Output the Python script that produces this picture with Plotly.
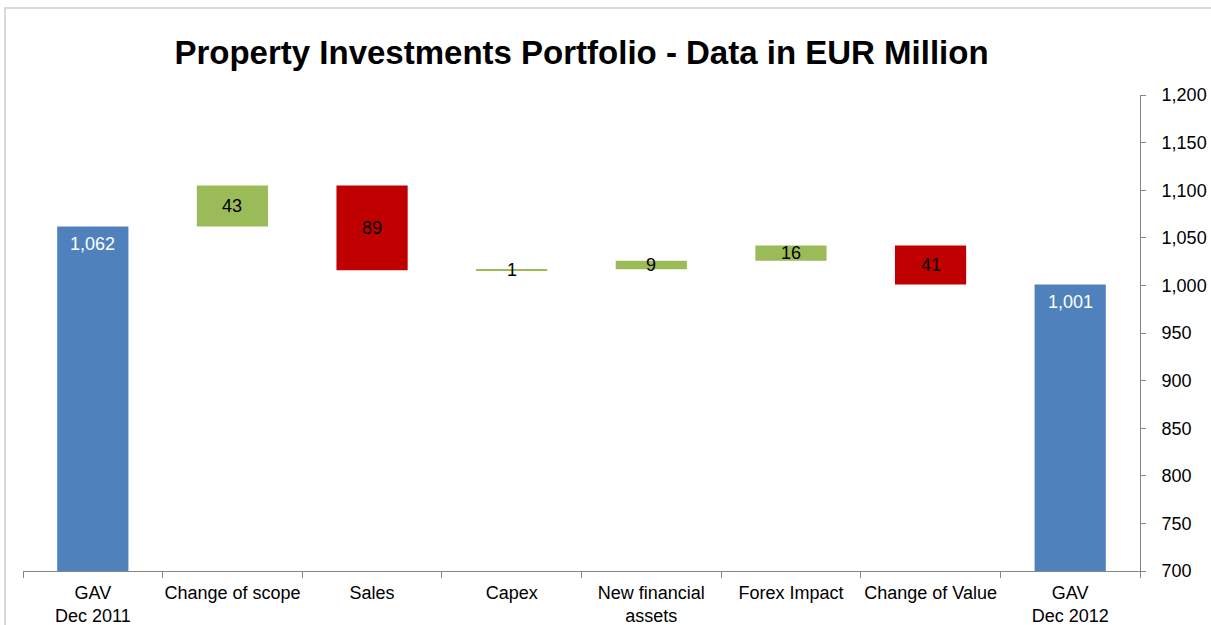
import plotly.graph_objects as go

categories = ["GAV<br>Dec 2011", "Change of scope", "Sales", "Capex",
              "New financial<br>assets", "Forex Impact", "Change of Value",
              "GAV<br>Dec 2012"]
# first and last are totals, the rest are movements
start_total = 1062
movements = [43, -89, 1, 9, 16, -41]
end_total = 1001

BLUE = "#4F81BD"
GREEN = "#9BBB59"
RED = "#C00000"
FONT = "Liberation Sans, Arial, sans-serif"


def build_steps():
    bases, heights, colors, kinds = [], [], [], []
    bases.append(0)
    heights.append(start_total)
    colors.append(BLUE)
    kinds.append("total")
    level = start_total
    for m in movements:
        lo = min(level, level + m)
        bases.append(lo)
        heights.append(abs(m))
        colors.append(GREEN if m > 0 else RED)
        kinds.append("delta")
        level += m
    bases.append(0)
    heights.append(end_total)
    colors.append(BLUE)
    kinds.append("total")
    return bases, heights, colors, kinds


bases, heights, colors, kinds = build_steps()

fig = go.Figure()
fig.add_trace(go.Bar(
    x=categories, y=heights, base=bases,
    marker=dict(color=colors, line=dict(width=0)),
    width=0.51, hoverinfo="x+y", showlegend=False,
))

annotations = []
for cat, b, h, k in zip(categories, bases, heights, kinds):
    if k == "total":
        annotations.append(dict(x=cat, y=b + h, yshift=-18, text=f"{h:,}",
                                showarrow=False,
                                font=dict(family=FONT, size=18, color="white")))
    else:
        annotations.append(dict(x=cat, y=b + h / 2, text=f"{h:,}",
                                showarrow=False,
                                font=dict(family=FONT, size=18, color="black")))

fig.update_layout(
    width=1211, height=625,
    paper_bgcolor="white", plot_bgcolor="white",
    margin=dict(l=23, r=71, t=95, b=54),
    font=dict(family=FONT, size=18, color="black"),
    title=dict(text="<b>Property Investments Portfolio - Data in EUR Million</b>",
               x=0.5, xref="paper", y=1 - 52 / 625, yanchor="middle",
               font=dict(family=FONT, size=33, color="black")),
    barmode="overlay",
    xaxis=dict(showline=True, linecolor="#868686", linewidth=1,
               ticks="outside", ticklen=6, tickcolor="#868686",
               tickson="boundaries", showgrid=False, zeroline=False,
               tickangle=0, automargin=False, ticklabelstandoff=5,
               tickfont=dict(size=18)),
    yaxis=dict(side="right", range=[700, 1200], dtick=50, tickformat=",",
               showline=True, linecolor="#868686", linewidth=1,
               ticks="outside", ticklen=5, tickcolor="#868686",
               showgrid=False, zeroline=False, ticklabelstandoff=12,
               automargin=False, tickfont=dict(size=18)),
    annotations=annotations,
    shapes=[dict(type="rect", xref="paper", yref="paper",
                 x0=-18 / 1117, x1=1.2, y0=-0.3, y1=(571 - 8) / 476,
                 line=dict(color="#D9D9D9", width=2), layer="below")],
)

fig.write_html("out.html",
               config={"displayModeBar": False},
               post_script="document.body.style.margin='0';"
                           "document.body.style.overflow='hidden';")
